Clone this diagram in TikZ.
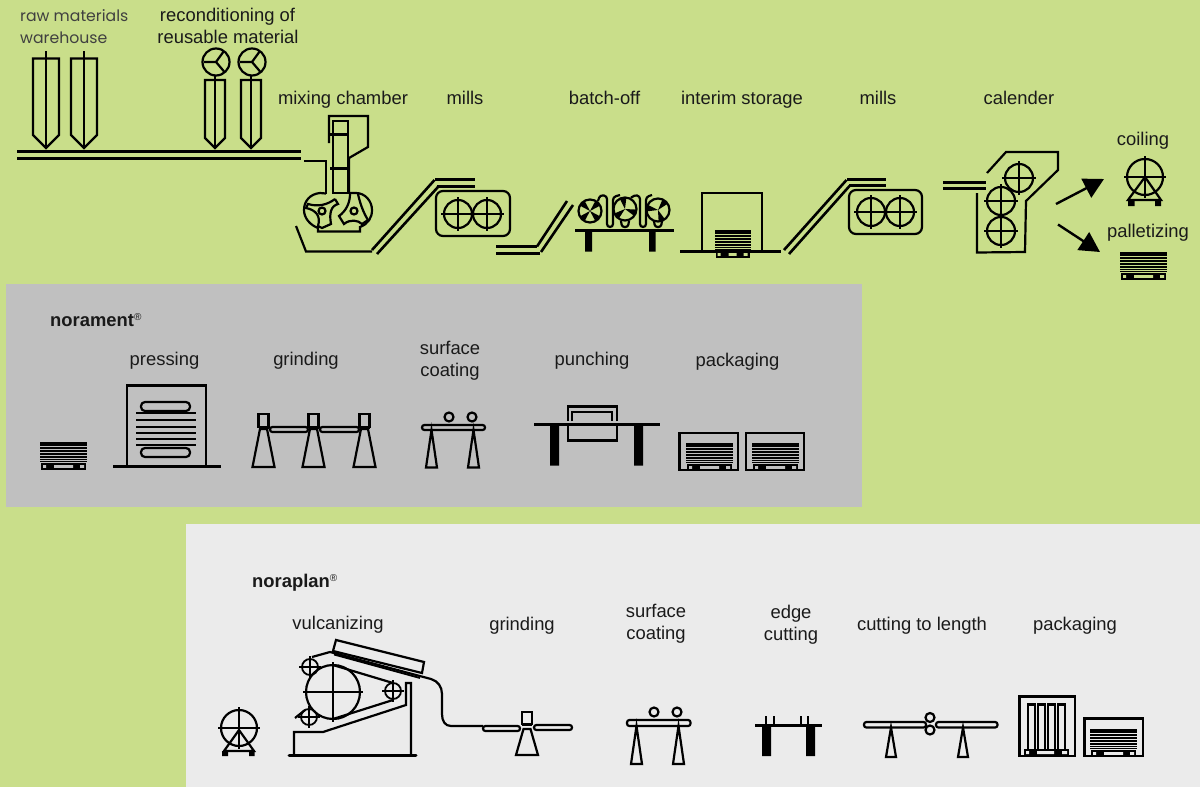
\documentclass[tikz,border=0pt]{standalone}
\usepackage{fontspec}
\setmainfont{Liberation Sans}
\newfontfamily\geofont{Poppins}
\usetikzlibrary{arrows.meta}
\definecolor{bgGreen}{HTML}{C9DE8A}
\definecolor{bgGrey}{HTML}{C0C0C0}
\definecolor{bgLight}{HTML}{EBEBEB}
\definecolor{ink}{HTML}{1A1A1A}
\tikzset{
  ln/.style={line width=2.2pt,draw=black,line join=miter},
  lnthin/.style={line width=1.8pt,draw=black},
  rail/.style={line width=3pt,draw=black},
  lab/.style={anchor=base,font=\fontsize{18.4}{22}\selectfont,text=ink,inner sep=0pt},
  labL/.style={anchor=base west,font=\fontsize{18.4}{22}\selectfont\bfseries,text=ink,inner sep=0pt},
  geo/.style={anchor=base,font=\geofont\fontsize{15.7}{20}\selectfont,text=black!75,inner sep=0pt},
  bigarrow/.style={line width=2.4pt,-{Triangle[length=20pt,width=21pt]}}
}
% circle with a cross
\newcommand{\crosswheel}[4][ln]{%
  \draw[#1] (#2,#3) circle[radius=#4];
  \draw[#1] (#2-#4-3,#3) -- (#2+#4+3,#3) (#2,#3-#4-3) -- (#2,#3+#4+3);}
% stack with pallet
\newcommand{\stackpallet}[4]{%
  \begin{scope}[shift={(#1,#2)}]
    \fill[black] (0,0) rectangle (#3,20);
    \foreach \yy in {4,7,10,13,16,18.5} \draw[#4,line width=.3pt] (0,\yy) -- (#3,\yy);
    \fill[black] (1,20.5) rectangle (#3-1,27.5);
    \fill[#4] (3,23) rectangle (6,25.8) (14,23) rectangle (#3-14,25.8) (#3-7,23) rectangle (#3-3,25.8);
  \end{scope}}
% trestle leg
\newcommand{\leg}[4]{\draw[ln] (#1,#2) -- (#1-#3,#4) -- (#1+#3,#4) -- cycle;}
% slot
\newcommand{\slot}[4]{\draw[ln,rounded corners=2.4pt] (#1,#2) rectangle (#3,#4);}
% grinder
\newcommand{\grinder}[3]{\draw[ln] (#1-5,#2) rectangle (#1+5,#2+13);
  \draw[line width=2.8pt] (#1-5,#2+13.5) -- (#1+5,#2+13.5);
  \draw[ln] (#1-3.5,#2+15) -- (#1+3.5,#2+15) -- (#1+11,#3) -- (#1-11,#3) -- cycle;}
% recycler head
\newcommand{\yhead}[2]{\draw[ln] (#1,#2) circle[radius=13.5];
  \draw[ln] (#1-12,#2) -- (#1,#2) -- (#1+8,#2-11) (#1,#2) -- (#1+8.5,#2+10);}
% belt wheel
\newcommand{\fanwheel}[3]{\draw[ln] (#1,#2) circle[radius=11.5];
  \foreach \aa in {#3} \fill[black] (#1,#2) -- ++(\aa-17:12) -- ++(\aa+90:7) -- cycle;}
\begin{document}
\begin{tikzpicture}[x=1pt,y=-1pt]
\useasboundingbox (0,0) rectangle (1200,787);
\fill[bgGreen] (0,0) rectangle (1200,787);
\fill[bgGrey] (6,284) rectangle (862,507);
\fill[bgLight] (186,524) rectangle (1200,787);

% ---- labels
\node[geo,anchor=base west] (rawA) at (20,21) {raw materials};
\node[geo,anchor=base west] (rawB) at (20,43) {warehouse};
\node[lab] (recA) at (227.5,21) {reconditioning of};
\node[lab] (recB) at (228,43) {reusable material};
\node[lab] (mix) at (343,104) {mixing chamber};
\node[lab] (mills1) at (465,104) {mills};
\node[lab] (batch) at (604.5,104) {batch-off};
\node[lab] (interim) at (742,104) {interim storage};
\node[lab] (mills2) at (878,104) {mills};
\node[lab] (cal) at (1019,104) {calender};
\node[lab] (coil) at (1143,145) {coiling};
\node[lab] (pal) at (1148,237) {palletizing};

\node[labL] (nora) at (50,326) {norament\raisebox{6pt}{\fontsize{10}{10}\selectfont\mdseries ®}};
\node[lab] (press) at (164.5,365.5) {pressing};
\node[lab] (grindA) at (306,365.5) {grinding};
\node[lab] (surfA1) at (450,354) {surface};
\node[lab] (surfA2) at (450,376) {coating};
\node[lab] (punch) at (592,365) {punching};
\node[lab] (packA) at (737.5,366) {packaging};

\node[labL] (plan) at (252,587) {noraplan\raisebox{6pt}{\fontsize{10}{10}\selectfont\mdseries ®}};
\node[lab] (vulc) at (338,629) {vulcanizing};
\node[lab] (grindB) at (522,630) {grinding};
\node[lab] (surfB1) at (656,617) {surface};
\node[lab] (surfB2) at (656,639) {coating};
\node[lab] (edgeA) at (791,618) {edge};
\node[lab] (edgeB) at (791,640) {cutting};
\node[lab] (cutlen) at (922,630) {cutting to length};
\node[lab] (packB) at (1075,630) {packaging};

% ---- raw materials line
\draw[ln] (33,58.5) -- (59,58.5) -- (59,135) -- (46,148) -- (33,135) -- cycle;
\draw[ln] (71,58.5) -- (97,58.5) -- (97,135) -- (84,148) -- (71,135) -- cycle;
\draw[ln] (205,80) -- (225,80) -- (225,138) -- (215,148) -- (205,138) -- cycle;
\draw[ln] (241,80) -- (261,80) -- (261,138) -- (251,148) -- (241,138) -- cycle;
\yhead{216}{62}
\yhead{252}{62}
\draw[line width=2.2pt,draw=black] (46,51) -- (46,148) (84,51) -- (84,148) (215,76) -- (215,148) (251,76) -- (251,148);
\draw[rail] (17,151.5) -- (301,151.5) (17,158) -- (301,158);

% ---- mixing chamber
\draw[ln] (329,143) -- (329,116) -- (368,116) -- (368,147) -- (349,158) -- (349,193);
\draw[ln] (333,193) rectangle (348,121);
\draw[line width=3pt] (328,134) -- (349,134) (330,168) -- (350,168);
\draw[ln] (304,161) -- (326,161) -- (326,193.5);
\draw[ln] (326,193.5) -- (320,193) .. controls (310,194) and (304,201) .. (304,210)
  .. controls (304,218) and (310,225) .. (318,228) -- (318,231.5) -- (360,231.5) -- (360,227)
  .. controls (368,224) and (372,218) .. (372,210) .. controls (372,201) and (365,193) .. (356,193) -- (349,193);
% rotors
\draw[ln] (335,199) -- (338,204) .. controls (331,206) and (329,213) .. (331,224)
  -- (322,228) -- (318,226) .. controls (321,216) and (316,210) .. (306,208) -- (308,204)
  .. controls (318,207) and (327,205) .. (335,199);
\draw[ln] (322,211) circle[radius=3.5];
\draw[ln] (350,194) .. controls (350,203) and (346,211) .. (339,216) -- (344,224)
  .. controls (350,219) and (358,220) .. (362,224) -- (368,220) .. controls (363,212) and (360,203) .. (358,194);
\draw[ln] (354,211) circle[radius=3.5];
\draw[ln] (296,226) -- (306,251.5) -- (372,251.5);

% ---- conveyor + mill 1
\draw[rail,line width=2.6pt] (372,250) -- (434.5,180) (377,254) -- (438,187);
\draw[rail] (435,179) -- (474.5,179) (437,186) -- (474.5,186);
\draw[ln,rounded corners=7pt] (436,191) rectangle (510,236);
\crosswheel{458}{214}{14}
\crosswheel{487}{214}{14}

% ---- conveyor 2 + batch off
\draw[rail] (496,246.5) -- (537,246.5) (496,253) -- (540,253);
\draw[rail,line width=2.6pt] (537,246.5) -- (567,201) (541,252) -- (573,205);
\draw[line width=2.2pt] (575,230.5) -- (674,230.5);
\fill[black] (585,231) rectangle (592,251.5) (649,231) rectangle (655.5,251.5);
\fanwheel{590}{211}{45,135,225,315}
\fanwheel{625}{209}{20,140,260}
\fanwheel{658}{210}{70,190,310}
\draw[ln,rounded corners=3pt] (598,201) -- (600,195) -- (607,196) -- (607,227) -- (613,227) -- (613,197) -- (620,195);
\draw[ln,rounded corners=2.5pt] (621,221) -- (622,227) -- (628,227) -- (629,221);
\draw[ln,rounded corners=3pt] (631,198) -- (634,195) -- (640,196) -- (640,227) -- (646,227) -- (646,197) -- (652,195);
\draw[ln,rounded corners=2.5pt] (654,221) -- (655,227) -- (661,227) -- (662,221);

% ---- interim storage
\draw[line width=2.4pt] (680,251.5) -- (781,251.5);
\draw[line width=2.4pt] (702,251.5) -- (702,193) -- (762,193) -- (762,251.5);
\stackpallet{714.5}{230}{36}{bgGreen}

% ---- conveyor + mill 2
\draw[rail,line width=2.6pt] (784,250) -- (846.5,180) (789,254) -- (849.5,186);
\draw[rail] (847,179) -- (886,179) (849,185.5) -- (886,185.5);
\draw[ln,rounded corners=7pt] (849,190) rectangle (922,234);
\crosswheel{871}{212}{14}
\crosswheel{900}{212}{14}

% ---- calender
\draw[rail] (943,182) -- (986,182) (943,188.5) -- (986,188.5);
\draw[ln] (987,173) -- (1006,152) -- (1058,152) -- (1058,170) -- (1026,201) -- (1025,252) -- (977,252.5) -- (977,193);
\crosswheel{1019}{178}{14}
\crosswheel{1001}{201}{14}
\crosswheel{1001}{231}{14}
\coordinate (calOutA) at (1056,204);
\coordinate (calOutB) at (1058,224.5);
\coordinate (toCoil) at (1104,179);
\coordinate (toPal) at (1100,252);
\draw[bigarrow] (calOutA) -- (toCoil);
\draw[bigarrow] (calOutB) -- (toPal);

% ---- coiling
\crosswheel{1145}{177}{18}
\draw[ln] (1128,200) -- (1145,177) -- (1161,200) -- cycle;
\draw[ln] (1145,177) -- (1145,197);
\fill[black] (1128,200) rectangle (1134.5,206) (1155,200) rectangle (1161,206);
\stackpallet{1120}{252}{47}{bgGreen}

% ---- norament line
\stackpallet{40}{442}{47}{bgGrey}
\draw[line width=2.4pt] (127,466) -- (127,385.5) -- (206,385.5) -- (206,466);
\draw[line width=2.2pt] (113,466.5) -- (221,466.5);
\draw[ln,rounded corners=4pt] (141,402) rectangle (190,411);
\draw[ln,rounded corners=4pt] (141,448) rectangle (190,457);
\draw[ln] (136,413) -- (196,413) (136,420) -- (196,420) (136,427) -- (196,427) (136,433) -- (196,433) (136,439) -- (196,439) (136,445) -- (196,445);
\slot{270}{427}{308}{432}
\slot{320}{427}{359}{432}
\grinder{263.5}{414}{467}
\grinder{313.5}{414}{467}
\grinder{364.5}{414}{467}

\slot{422}{425}{485}{430}
\draw[ln] (449,417) circle[radius=4.5] (472,417) circle[radius=4.5];
\leg{431.5}{430}{5.5}{467.5}
\leg{473.5}{430}{5.5}{467.5}

\draw[line width=2.2pt] (534,424.5) -- (660,424.5);
\fill[black] (550,425) rectangle (559,465.5) (634,425) rectangle (643,465.5);
\draw[ln] (568,421) -- (568,406.5) -- (617,406.5) -- (617,421);
\draw[ln] (568,424) -- (568,440.5) -- (617,440.5) -- (617,424);
\draw[ln] (572,421) -- (572,412) -- (612,412) -- (612,421);
\draw[line width=2.4pt] (679.5,470) rectangle (738,433);
\draw[line width=2.4pt] (746,470) rectangle (804,433);
\stackpallet{686}{443}{47}{bgGrey}
\stackpallet{752}{443}{47}{bgGrey}

% ---- noraplan line
\crosswheel{239}{728}{18}
\draw[ln] (224,751) -- (239,730) -- (254,751) -- cycle;
\draw[ln] (239,730) -- (239,746);
\fill[black] (222,751) rectangle (228,756) (249,751) rectangle (254.5,756);

\draw[line width=3pt,line cap=round] (289,755) -- (416,755);
\draw[ln] (294,755) -- (294,732) -- (323,732) -- (406,705) -- (406,683) -- (411,683) -- (411,755);
\crosswheel[ln]{333}{692}{27}
\draw[ln] (333,665) -- (393,683) (333,719) -- (393,700);
\crosswheel[lnthin]{310}{667}{8}
\crosswheel[lnthin]{393}{691}{8}
\crosswheel[lnthin]{309}{717}{8}
\draw[ln] (295,718) -- (305,710);
\draw[ln] (312,657) -- (330,652) -- (431,679) .. controls (438,681) and (442,687) .. (442,694) -- (442,714) .. controls (442,721) and (445,726) .. (451,726) -- (483,726);
\draw[lnthin] (334,654.5) -- (420,678);
\draw[ln] (336,640) -- (424,662) -- (422,673) -- (333,651) -- cycle;
\slot{483}{726}{520}{731}
\slot{534}{725}{572}{730}
\draw[ln] (522,712) rectangle (532,724);
\draw[line width=2.8pt] (522,725) -- (532,725);
\draw[ln] (523.5,729) -- (530.5,729) -- (538,755) -- (516,755) -- cycle;

\slot{627}{720}{690.5}{726}
\draw[ln] (654,712) circle[radius=4.5] (677,712) circle[radius=4.5];
\leg{636.5}{726}{5.5}{764}
\leg{678.5}{726}{5.5}{764}

\draw[line width=2.2pt] (755,725.5) -- (822,725.5);
\fill[black] (762,726) rectangle (771,756) (806,726) rectangle (815,756);
\draw[lnthin] (766,716) -- (766,725) (774,716) -- (774,725) (801,716) -- (801,725) (808,716) -- (808,725);

\slot{864}{722}{926}{727.5}
\slot{936}{722}{997.5}{727.5}
\draw[ln] (930,717.5) circle[radius=4.5] (930,730) circle[radius=4.5];
\leg{891}{727.5}{5}{757}
\leg{963}{727.5}{5}{757}

\draw[line width=2.4pt] (1019.5,696.5) rectangle (1075,756);
\foreach \bx in {1028,1038,1048,1058} \draw[ln] (\bx,751) -- (\bx,704.5) -- (\bx+7,704.5) -- (\bx+7,751);
\fill[black] (1024,749) rectangle (1069,756);
\fill[bgLight] (1026,751) rectangle (1029,754) (1037,751) rectangle (1054,754) (1062,751) rectangle (1067,754);
\draw[line width=2.4pt] (1084.5,718.5) rectangle (1143,756);
\stackpallet{1090}{729}{47}{bgLight}
\end{tikzpicture}
\end{document}
